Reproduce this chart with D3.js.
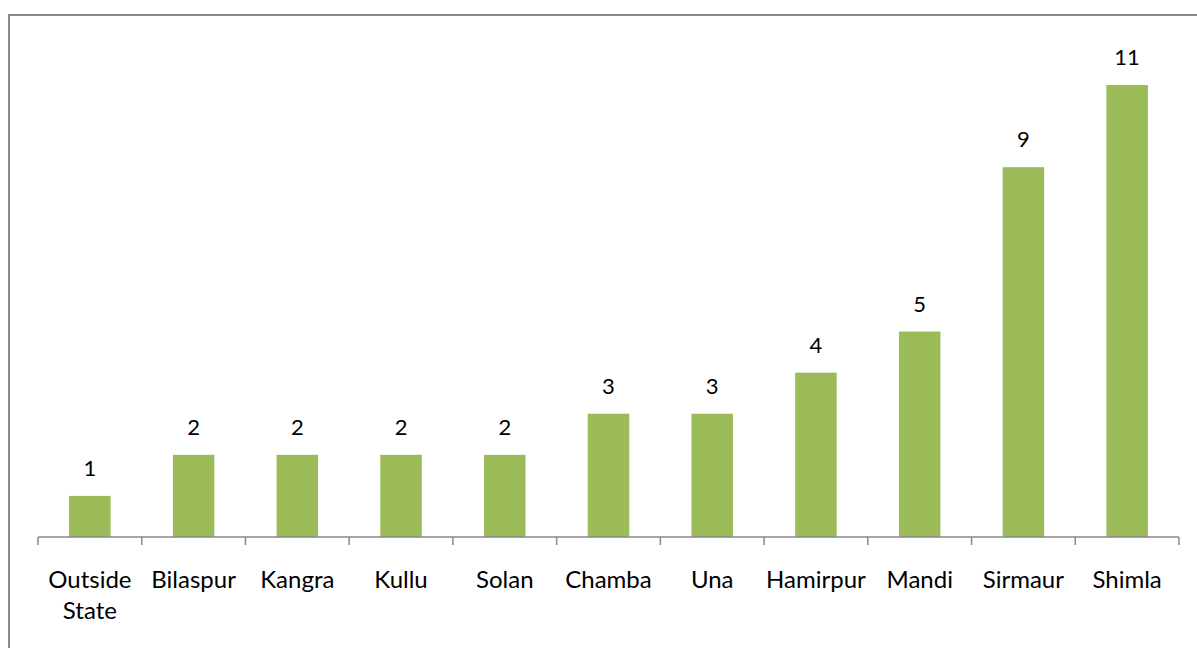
<html lang="en">
<head>
    <meta charset="utf-8">
    <script src="https://cdn.jsdelivr.net/npm/d3@7"></script>
    <style>
        body { margin: 0; background: white; }
        .axis path, .axis line { stroke: #888; stroke-width: 1.5px; }
        text { font-family: Lato, "Open Sans", sans-serif; fill: black; }
    </style>
</head>
<body>
    <script>
        var categories = ["Outside State", "Bilaspur", "Kangra", "Kullu", "Solan", "Chamba", "Una", "Hamirpur", "Mandi", "Sirmaur", "Shimla"];
        var values = [1, 2, 2, 2, 2, 3, 3, 4, 5, 9, 11];

        var w = 1197, h = 648;
        var left = 38, right = 1179, base = 537;

        var svg = d3.select("body").append("svg")
            .attr("width", w)
            .attr("height", h);

        // chart border (cut off at right and bottom edge)
        svg.append("rect")
            .attr("x", 9).attr("y", 15)
            .attr("width", 1200).attr("height", 700)
            .attr("fill", "none")
            .attr("stroke", "#8a8a8a")
            .attr("stroke-width", 2);

        var xScale = d3.scaleBand()
            .domain(categories)
            .range([left, right])
            .paddingInner(0.6)
            .paddingOuter(0.3);

        var yScale = d3.scaleLinear()
            .domain([0, 11])
            .range([base, 85]);

        svg.selectAll("rect.bar")
            .data(values)
            .enter()
            .append("rect")
            .attr("class", "bar")
            .attr("x", function(d, i) { return xScale(categories[i]); })
            .attr("y", function(d) { return yScale(d); })
            .attr("width", xScale.bandwidth())
            .attr("height", function(d) { return base - yScale(d); })
            .attr("fill", "#9bbb59");

        svg.selectAll("text.val")
            .data(values)
            .enter()
            .append("text")
            .attr("class", "val")
            .attr("x", function(d, i) { return xScale(categories[i]) + xScale.bandwidth() / 2; })
            .attr("y", function(d) { return yScale(d) - 20; })
            .attr("text-anchor", "middle")
            .attr("font-size", "22px")
            .text(function(d) { return d; });

        // axis line with ticks at category boundaries
        var step = (right - left) / categories.length;
        var tickPos = d3.range(categories.length + 1).map(function(i) { return left + i * step; });
        var axis = svg.append("g").attr("class", "axis");
        axis.append("path")
            .attr("d", "M" + left + "," + base + "H" + right)
            .attr("fill", "none");
        axis.selectAll("line")
            .data(tickPos)
            .enter()
            .append("line")
            .attr("x1", function(d) { return d; })
            .attr("x2", function(d) { return d; })
            .attr("y1", base)
            .attr("y2", base + 8);

        var labels = svg.selectAll("text.cat")
            .data(categories)
            .enter()
            .append("text")
            .attr("class", "cat")
            .attr("text-anchor", "middle")
            .attr("font-size", "24px")
            .attr("x", function(d) { return xScale(d) + xScale.bandwidth() / 2; })
            .attr("y", 588);

        labels.each(function(d) {
            var parts = d === "Outside State" ? ["Outside", "State"] : [d];
            var t = d3.select(this);
            parts.forEach(function(p, i) {
                t.append("tspan")
                    .attr("x", t.attr("x"))
                    .attr("dy", i === 0 ? 0 : 31)
                    .text(p);
            });
        });
    </script>
</body>
</html>
